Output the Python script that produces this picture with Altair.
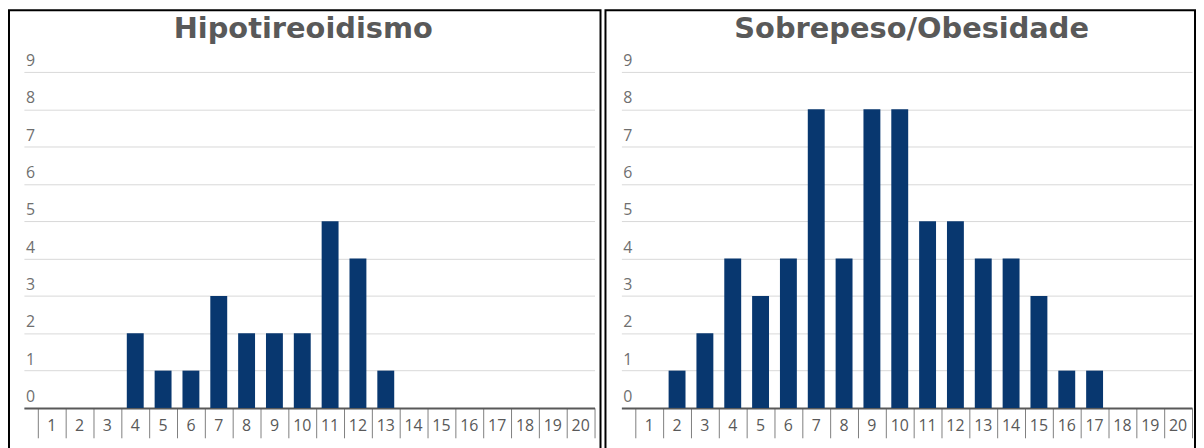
import altair as alt
import pandas as pd

categories = list(range(1, 21))
hipo = [0, 0, 0, 2, 1, 1, 3, 2, 2, 2, 5, 4, 1, 0, 0, 0, 0, 0, 0, 0]
sobre = [0, 1, 2, 4, 3, 4, 8, 4, 8, 8, 5, 5, 4, 4, 3, 1, 1, 0, 0, 0]
y_ticks = list(range(0, 10))
x_tick_pos = [i + 0.5 for i in range(0, 21)]

W, H = 574, 338
BAR = "#08376f"
GRAY = "#595959"

XS = alt.Scale(domain=[0, 20.5], nice=False, zero=False, padding=0)
YS = alt.Scale(domain=[0, 9], nice=False, zero=True, padding=0)
XAX = alt.Axis(values=x_tick_pos, labels=False, grid=False, tickSize=30,
               tickColor="#7f7f7f", tickWidth=1, domainColor=GRAY, domainWidth=2,
               title=None)
YAX = alt.Axis(values=y_ticks, labels=False, ticks=False, domain=False, grid=True,
               gridColor="#d9d9d9", gridWidth=1, title=None, tickCount=10,
               labelOverlap=False)


def panel(title, values, title_x):
    df = pd.DataFrame({"cat": categories, "val": values})
    base = alt.Chart(df)
    bars = base.mark_bar(size=17, color=BAR).encode(
        x=alt.X("cat:Q", scale=XS, axis=XAX),
        y=alt.Y("val:Q", scale=YS, axis=YAX),
    )
    xlab = base.mark_text(font="Open Sans", fontSize=16, color=GRAY,
                          baseline="alphabetic", align="center").encode(
        x=alt.X("cat:Q", scale=XS, axis=XAX),
        y=alt.value(H + 23),
        text=alt.Text("cat:N"),
    )
    ydf = pd.DataFrame({"t": y_ticks})
    ylab = alt.Chart(ydf).mark_text(font="Open Sans", fontSize=16, color="#6f6f6f",
                                    baseline="alphabetic", align="left", dy=-6).encode(
        x=alt.value(2),
        y=alt.Y("t:Q", scale=YS, axis=YAX),
        text=alt.Text("t:N"),
    )
    one = alt.Chart(alt.Data(values=[{"title": title}]))
    ttl = one.mark_text(font="DejaVu Sans", fontSize=29, fontWeight="bold", color=GRAY,
                        baseline="alphabetic", align="center").encode(
        x=alt.value(title_x), y=alt.value(-34), text="title:N")
    return [bars, xlab, ylab, ttl]


def frame(left, right):
    return alt.Chart(alt.Data(values=[{}])).mark_rect(
        fillOpacity=0, stroke="black", strokeWidth=2).encode(
        x=alt.value(left), x2=alt.value(right), y=alt.value(-62), y2=alt.value(H + 45))


left = alt.layer(*panel("Hipotireoidismo", hipo, 281), frame(-15, W + 6)).properties(width=W, height=H)
right = alt.layer(*panel("Sobrepeso/Obesidade", sobre, 292), frame(-16, W + 3)).properties(width=W, height=H)

chart = alt.hconcat(left, right, spacing=27).properties(
    padding=0, bounds="flush"
).configure_view(stroke=None)

chart.save("out.html", embed_options={"renderer": "svg", "actions": False})
